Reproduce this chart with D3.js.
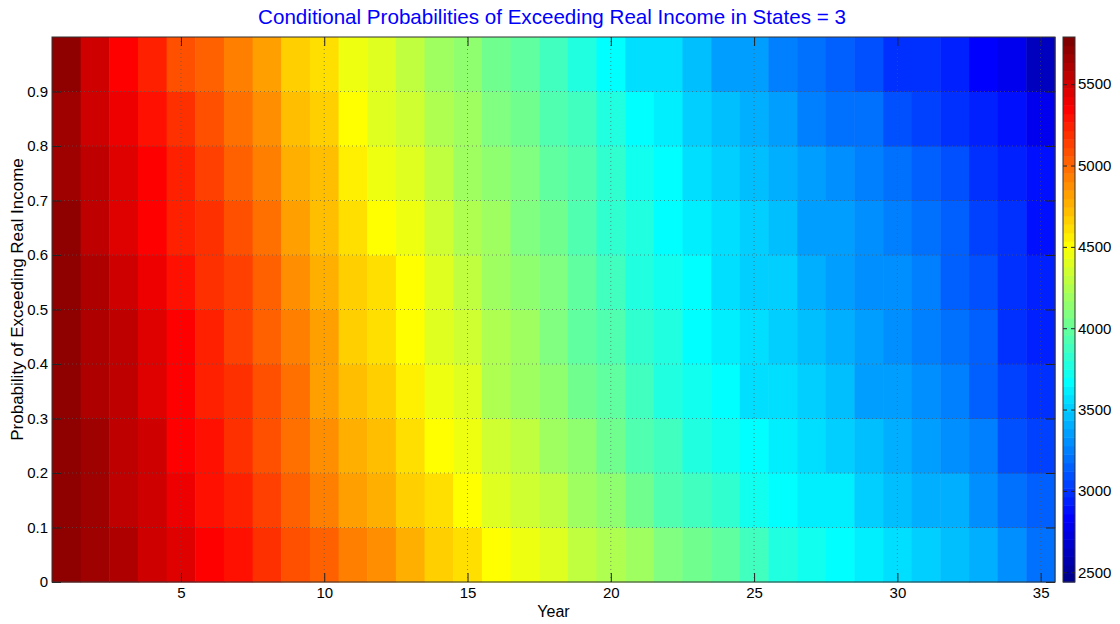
<!DOCTYPE html>
<html>
<head>
<meta charset="utf-8">
<script src="https://cdn.jsdelivr.net/npm/d3@7/dist/d3.min.js"></script>
<style>
  body { margin: 0; background: #fff; }
  text { font-family: "Liberation Sans", Arial, sans-serif; }
</style>
</head>
<body>
<svg id="chart" width="1120" height="624"></svg>
<script>
// CONST and DATA

const years = [1, 2, 3, 4, 5, 6, 7, 8, 9, 10, 11, 12, 13, 14, 15, 16, 17, 18,
  19, 20, 21, 22, 23, 24, 25, 26, 27, 28, 29, 30, 31, 32, 33, 34, 35];

// probability bands (lower edge, upper edge) -- one row of cells each
const probBands = [[0.0, 0.1], [0.1, 0.2], [0.2, 0.3], [0.3, 0.4], [0.4, 0.5],
  [0.5, 0.6], [0.6, 0.7], [0.7, 0.8], [0.8, 0.9], [0.9, 1.0]];

// real income per year, one array per probability band
const income_p05 = [5710, 5640, 5610, 5497, 5445, 5360, 5310, 5190, 5105, 5015, 4930, 4890, 4770, 4690, 4600, 4515, 4435, 4390, 4305, 4265, 4175, 4090, 4040, 3960, 3880, 3800, 3725, 3685, 3630, 3590, 3515, 3470, 3390, 3300, 3225];
const income_p15 = [5710, 5640, 5555, 5497, 5390, 5305, 5230, 5140, 5020, 4920, 4820, 4780, 4685, 4600, 4515, 4400, 4350, 4275, 4190, 4150, 4030, 3950, 3870, 3820, 3740, 3690, 3640, 3600, 3520, 3480, 3430, 3390, 3305, 3185, 3135];
const income_p25 = [5710, 5635, 5540, 5485, 5371, 5275, 5190, 5105, 4980, 4865, 4755, 4715, 4615, 4530, 4450, 4325, 4280, 4200, 4115, 4060, 3945, 3860, 3780, 3735, 3655, 3610, 3570, 3525, 3440, 3400, 3360, 3315, 3230, 3105, 3065];
const income_p35 = [5710, 5625, 5540, 5460, 5371, 5250, 5170, 5085, 4960, 4830, 4715, 4670, 4550, 4470, 4385, 4260, 4215, 4135, 4050, 3970, 3880, 3800, 3715, 3675, 3590, 3550, 3505, 3465, 3380, 3340, 3295, 3255, 3170, 3045, 3005];
const income_p45 = [5710, 5610, 5530, 5425, 5345, 5230, 5150, 5050, 4925, 4800, 4685, 4630, 4520, 4420, 4340, 4225, 4170, 4100, 4000, 3915, 3835, 3750, 3680, 3625, 3555, 3515, 3455, 3415, 3345, 3305, 3260, 3205, 3135, 3010, 2955];
const income_p55 = [5710, 5590, 5505, 5385, 5300, 5210, 5125, 5005, 4880, 4770, 4665, 4590, 4500, 4380, 4295, 4205, 4130, 4080, 3960, 3875, 3795, 3710, 3660, 3585, 3535, 3495, 3415, 3375, 3325, 3285, 3240, 3165, 3115, 2990, 2915];
const income_p65 = [5700, 5570, 5470, 5355, 5265, 5175, 5075, 4965, 4825, 4740, 4615, 4530, 4465, 4340, 4255, 4170, 4100, 4045, 3930, 3850, 3750, 3680, 3625, 3540, 3500, 3460, 3375, 3330, 3290, 3250, 3190, 3125, 3065, 2970, 2885];
const income_p75 = [5660, 5550, 5425, 5335, 5230, 5130, 5010, 4925, 4760, 4710, 4550, 4470, 4420, 4295, 4210, 4130, 4080, 4000, 3910, 3830, 3710, 3660, 3585, 3500, 3460, 3415, 3330, 3290, 3250, 3205, 3130, 3080, 3000, 2950, 2865];
const income_p85 = [5680, 5520, 5380, 5285, 5170, 5075, 4965, 4870, 4715, 4660, 4505, 4420, 4365, 4255, 4170, 4085, 4030, 3945, 3860, 3760, 3650, 3610, 3525, 3440, 3400, 3345, 3275, 3220, 3180, 3120, 3050, 3010, 2925, 2870, 2755];
const income_p95 = [5710, 5500, 5340, 5220, 5100, 5010, 4925, 4805, 4670, 4595, 4465, 4380, 4300, 4210, 4130, 4045, 3970, 3885, 3800, 3680, 3590, 3550, 3465, 3380, 3340, 3260, 3210, 3135, 3095, 3015, 2970, 2925, 2840, 2765, 2610];

const incomeRows = [income_p05, income_p15, income_p25, income_p35, income_p45,
  income_p55, income_p65, income_p75, income_p85, income_p95];

const colorLimits = [2440, 5790];
const xTicks = [5, 10, 15, 20, 25, 30, 35];
const yTicks = [0, 0.1, 0.2, 0.3, 0.4, 0.5, 0.6, 0.7, 0.8, 0.9];
const cbTicks = [2500, 3000, 3500, 4000, 4500, 5000, 5500];

const margin = { top: 37, bottom: 42, left: 52, right: 65 },
  width = 1120,
  height = 624;

// MATLAB style jet(64)
function jet(m) {
  const n = Math.ceil(m / 4);
  const u = [];
  for (let i = 1; i <= n; i++) u.push(i / n);
  for (let i = 1; i < n; i++) u.push(1);
  for (let i = n; i >= 1; i--) u.push(i / n);
  const g0 = Math.ceil(n / 2) - (m % 4 === 1 ? 1 : 0);
  const cmap = d3.range(m).map(() => [0, 0, 0]);
  u.forEach((val, k) => {
    const g = g0 + k, r = g + n, b = g - n; // zero based rows
    if (r >= 0 && r < m) cmap[r][0] = val;
    if (g >= 0 && g < m) cmap[g][1] = val;
    if (b >= 0 && b < m) cmap[b][2] = val;
  });
  return cmap.map((c) => d3.rgb(c[0] * 255, c[1] * 255, c[2] * 255).toString());
}
const jetColors = jet(64);

const colorScale = d3
  .scaleQuantize()
  .domain(colorLimits)
  .range(jetColors);

// build the cell table
const cells = [];
incomeRows.forEach((row, j) => {
  row.forEach((v, i) => {
    cells.push({ year: years[i], p0: probBands[j][0], p1: probBands[j][1], value: v });
  });
});

const svg = d3.select("#chart");

const plotRight = 1055;
const xScale = d3.scaleLinear().domain([0.5, 35.5]).range([margin.left, plotRight]);
const yScale = d3.scaleLinear().domain([0, 1]).range([height - margin.bottom, margin.top]);

// cells
svg.append("g")
  .selectAll("rect")
  .data(cells)
  .join("rect")
  .attr("x", (d) => xScale(d.year - 0.5))
  .attr("width", (d) => xScale(d.year + 0.5) - xScale(d.year - 0.5) + 0.5)
  .attr("y", (d) => yScale(d.p1))
  .attr("height", (d) => yScale(d.p0) - yScale(d.p1) + 0.5)
  .attr("fill", (d) => colorScale(d.value));

// grid (dotted)
const grid = svg.append("g").attr("stroke", "#555").attr("stroke-width", 0.8)
  .attr("stroke-dasharray", "1,3").attr("opacity", 0.8);
grid.selectAll(".gx").data(xTicks).join("line")
  .attr("x1", (d) => xScale(d)).attr("x2", (d) => xScale(d))
  .attr("y1", yScale(0)).attr("y2", yScale(1));
grid.selectAll(".gy").data(yTicks.slice(1)).join("line")
  .attr("y1", (d) => yScale(d)).attr("y2", (d) => yScale(d))
  .attr("x1", xScale(0.5)).attr("x2", xScale(35.5));

// axes, ticks pointing inward like matlab
const tickLen = 9;
const xAxis = d3.axisBottom(xScale).tickValues(xTicks).tickSizeInner(-tickLen).tickSizeOuter(0).tickPadding(5);
const yAxis = d3.axisLeft(yScale).tickValues(yTicks).tickSizeInner(-tickLen).tickSizeOuter(0).tickPadding(4)
  .tickFormat(d3.format("~g"));

svg.append("g")
  .attr("class", "axis x-axis")
  .attr("transform", `translate(0,${yScale(0)})`)
  .call(xAxis)
  .call((g) => g.select(".domain").remove());

svg.append("g")
  .attr("class", "axis y-axis")
  .attr("transform", `translate(${margin.left},0)`)
  .call(yAxis)
  .call((g) => g.select(".domain").remove());

// mirrored ticks on top and right
svg.append("g")
  .attr("transform", `translate(0,${yScale(1)})`)
  .call(d3.axisTop(xScale).tickValues(xTicks).tickSizeInner(-tickLen).tickSizeOuter(0).tickFormat(""))
  .call((g) => g.select(".domain").remove());
svg.append("g")
  .attr("transform", `translate(${plotRight},0)`)
  .call(d3.axisRight(yScale).tickValues(yTicks).tickSizeInner(-tickLen).tickSizeOuter(0).tickFormat(""))
  .call((g) => g.select(".domain").remove());

svg.selectAll(".axis text").attr("font-size", 15).attr("fill", "#000")
  .attr("font-family", "'Liberation Sans', Arial, sans-serif");
svg.selectAll(".tick line").attr("stroke", "#222");

// frame
svg.append("rect")
  .attr("x", xScale(0.5)).attr("y", yScale(1))
  .attr("width", xScale(35.5) - xScale(0.5)).attr("height", yScale(0) - yScale(1))
  .attr("fill", "none").attr("stroke", "#333").attr("stroke-width", 1);

// labels
svg.append("text")
  .attr("x", (xScale(0.5) + xScale(35.5)) / 2)
  .attr("y", 617)
  .attr("text-anchor", "middle")
  .attr("font-size", 16)
  .text("Year");

svg.append("text")
  .attr("transform", `translate(23,${(yScale(0) + yScale(1)) / 2 - 10}) rotate(-90)`)
  .attr("text-anchor", "middle")
  .attr("font-size", 17)
  .text("Probability of Exceeding Real Income");

svg.append("text")
  .attr("x", 552)
  .attr("y", 24)
  .attr("text-anchor", "middle")
  .attr("font-size", 20.6)
  .attr("fill", "#0000ff")
  .text("Conditional Probabilities of Exceeding Real Income in States = 3");

// colorbar
const cbX = 1063, cbW = 12;
const cbScale = d3.scaleLinear().domain(colorLimits).range([yScale(0), yScale(1)]);
const cbStep = (colorLimits[1] - colorLimits[0]) / jetColors.length;
svg.append("g")
  .selectAll("rect")
  .data(jetColors)
  .join("rect")
  .attr("x", cbX)
  .attr("width", cbW)
  .attr("y", (d, i) => cbScale(colorLimits[0] + (i + 1) * cbStep))
  .attr("height", (d, i) => cbScale(colorLimits[0] + i * cbStep) - cbScale(colorLimits[0] + (i + 1) * cbStep) + 0.5)
  .attr("fill", (d) => d);

svg.append("g")
  .attr("class", "axis cb-axis")
  .attr("transform", `translate(${cbX + cbW},0)`)
  .call(d3.axisRight(cbScale).tickValues(cbTicks).tickSizeInner(-4).tickSizeOuter(0).tickPadding(3)
    .tickFormat(d3.format("d")))
  .call((g) => g.select(".domain").remove());
svg.append("g")
  .attr("transform", `translate(${cbX},0)`)
  .call(d3.axisLeft(cbScale).tickValues(cbTicks).tickSizeInner(-4).tickSizeOuter(0).tickFormat(""))
  .call((g) => g.select(".domain").remove());
svg.selectAll(".cb-axis text").attr("font-size", 15).attr("fill", "#000");
svg.selectAll(".tick line").attr("stroke", "#222");

svg.append("rect")
  .attr("x", cbX).attr("y", yScale(1)).attr("width", cbW).attr("height", yScale(0) - yScale(1))
  .attr("fill", "none").attr("stroke", "#333").attr("stroke-width", 1);
</script>
</body>
</html>
